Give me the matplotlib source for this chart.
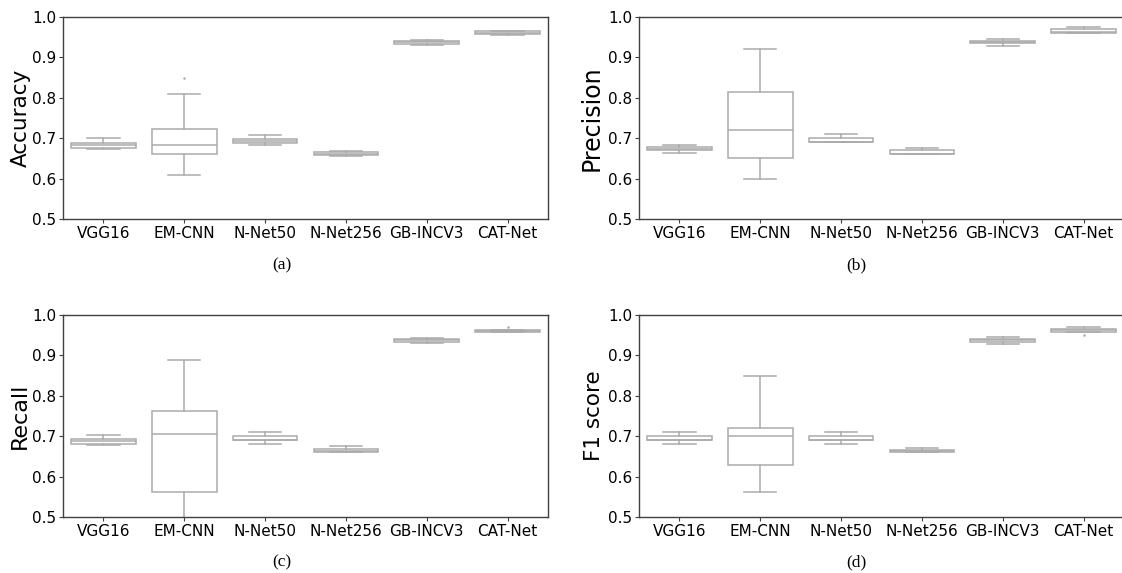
import matplotlib
matplotlib.use("Agg")
import matplotlib.pyplot as plt

MODELS = ["VGG16", "EM-CNN", "N-Net50", "N-Net256", "GB-INCV3", "CAT-Net"]

# five-number summaries, one list per statistic
ACC_LO  = [0.673, 0.610, 0.682, 0.657, 0.930, 0.956]
ACC_Q1  = [0.676, 0.662, 0.687, 0.659, 0.934, 0.959]
ACC_MED = [0.682, 0.684, 0.692, 0.662, 0.9375, 0.961]
ACC_Q3  = [0.688, 0.722, 0.699, 0.665, 0.941, 0.965]
ACC_HI  = [0.700, 0.810, 0.708, 0.668, 0.943, 0.966]
ACC_FLIERS = [[], [0.850], [], [], [], []]

PRE_LO  = [0.664, 0.600, 0.690, 0.660, 0.929, 0.960]
PRE_Q1  = [0.670, 0.650, 0.690, 0.660, 0.935, 0.960]
PRE_MED = [0.674, 0.720, 0.690, 0.662, 0.9375, 0.964]
PRE_Q3  = [0.678, 0.815, 0.700, 0.670, 0.941, 0.970]
PRE_HI  = [0.683, 0.920, 0.710, 0.675, 0.945, 0.976]
PRE_FLIERS = [[], [], [], [], [], []]

REC_LO  = [0.679, 0.480, 0.680, 0.660, 0.931, 0.959]
REC_Q1  = [0.681, 0.562, 0.690, 0.660, 0.933, 0.959]
REC_MED = [0.689, 0.705, 0.690, 0.663, 0.937, 0.961]
REC_Q3  = [0.694, 0.763, 0.701, 0.669, 0.940, 0.962]
REC_HI  = [0.702, 0.889, 0.710, 0.675, 0.943, 0.963]
REC_FLIERS = [[], [], [], [], [], [0.970]]

F1_LO  = [0.680, 0.561, 0.680, 0.661, 0.929, 0.959]
F1_Q1  = [0.690, 0.629, 0.690, 0.661, 0.933, 0.959]
F1_MED = [0.690, 0.700, 0.690, 0.663, 0.937, 0.963]
F1_Q3  = [0.700, 0.721, 0.700, 0.667, 0.940, 0.966]
F1_HI  = [0.710, 0.850, 0.710, 0.670, 0.946, 0.971]
F1_FLIERS = [[], [], [], [], [], [0.950]]

LINE = "#ababab"
SPINE = "#404040"


def make_stats(lo, q1, med, q3, hi, fliers):
    stats = []
    for i, name in enumerate(MODELS):
        stats.append(dict(label=name, whislo=lo[i], q1=q1[i], med=med[i],
                          q3=q3[i], whishi=hi[i], fliers=fliers[i]))
    return stats


def draw_panel(ax, stats, ylabel, ylabel_size=15, labelpad=1):
    ax.bxp(stats, positions=range(len(stats)), widths=0.8,
           patch_artist=True, showfliers=True,
           boxprops=dict(facecolor="white", edgecolor=LINE, linewidth=1.1),
           medianprops=dict(color=LINE, linewidth=1.1),
           whiskerprops=dict(color=LINE, linewidth=1.1),
           capprops=dict(color=LINE, linewidth=1.1),
           flierprops=dict(marker="o", markersize=0.8, markerfacecolor=LINE,
                           markeredgecolor=LINE))
    ax.set_xlim(-0.5, len(stats) - 0.5)
    ax.set_ylim(0.5, 1.0)
    ax.set_yticks([0.5, 0.6, 0.7, 0.8, 0.9, 1.0])
    ax.set_ylabel(ylabel, fontsize=ylabel_size, labelpad=labelpad)
    ax.tick_params(labelsize=11, length=3, width=0.8, color=SPINE, pad=2)
    for s in ax.spines.values():
        s.set_color(SPINE)
        s.set_linewidth(1.0)


def main():
    fig = plt.figure(figsize=(11.22, 5.73), dpi=100)
    w, h = 0.4323, 0.3525
    ax_a = fig.add_axes([0.0561, 0.6178, w, h])
    ax_b = fig.add_axes([0.5695, 0.6178, w, h])
    ax_c = fig.add_axes([0.0561, 0.0977, w, h])
    ax_d = fig.add_axes([0.5695, 0.0977, w, h])

    draw_panel(ax_a, make_stats(ACC_LO, ACC_Q1, ACC_MED, ACC_Q3, ACC_HI, ACC_FLIERS), "Accuracy", 15.5)
    draw_panel(ax_b, make_stats(PRE_LO, PRE_Q1, PRE_MED, PRE_Q3, PRE_HI, PRE_FLIERS), "Precision", 17, 3)
    draw_panel(ax_c, make_stats(REC_LO, REC_Q1, REC_MED, REC_Q3, REC_HI, REC_FLIERS), "Recall", 16)
    draw_panel(ax_d, make_stats(F1_LO, F1_Q1, F1_MED, F1_Q3, F1_HI, F1_FLIERS), "F1 score", 15.5, 3)

    for lab, x, y in [("(a)", 0.251, 0.5375), ("(b)", 0.763, 0.5375),
                      ("(c)", 0.251, 0.019), ("(d)", 0.763, 0.019)]:
        fig.text(x, y, lab, ha="center", va="center", fontsize=12.5,
                 family="Liberation Serif")

    fig.savefig("out.png", dpi=100)


if __name__ == "__main__":
    main()
